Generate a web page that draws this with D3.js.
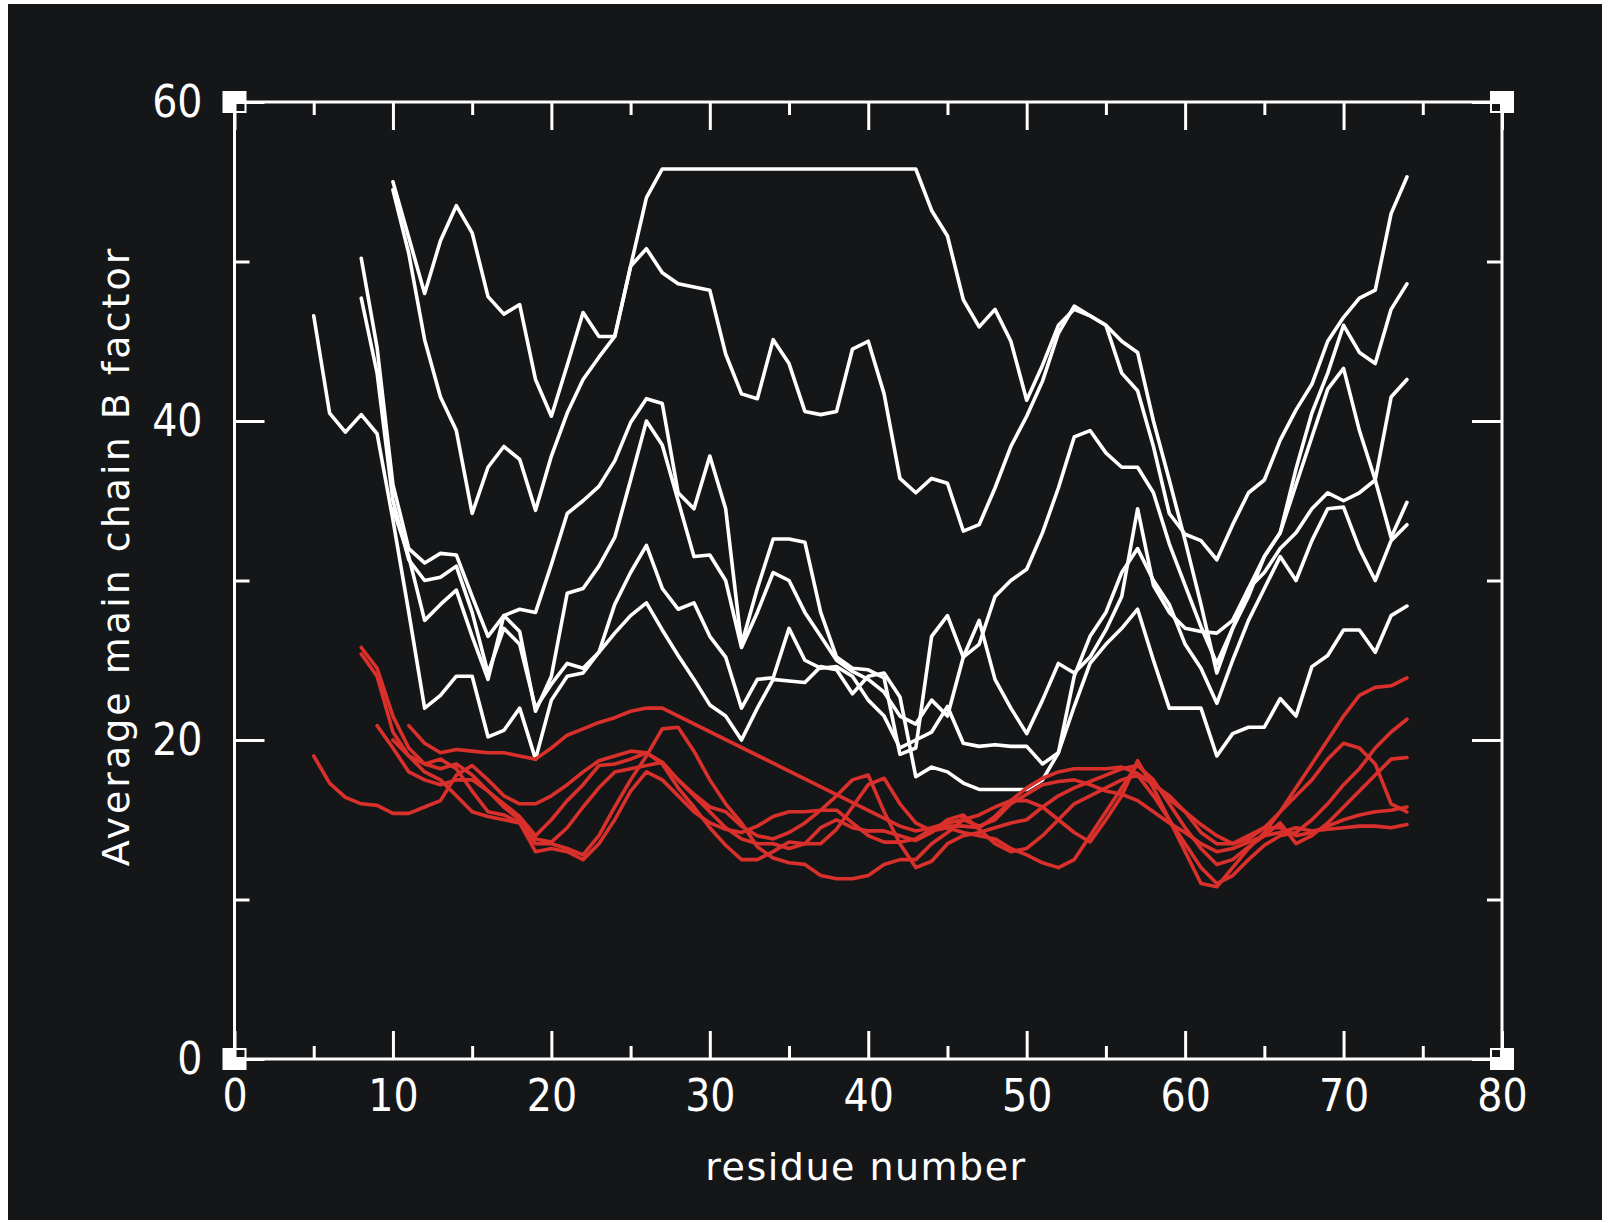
<!DOCTYPE html>
<html>
<head>
<meta charset="utf-8">
<style>
	body { margin: 0; background: #ffffff; }
	svg { display: block; }
	.tick text { font-family: "Liberation Sans Narrow", "DejaVu Sans Condensed", sans-serif; font-size: 44px; fill: #fff; }
	.title { font-family: "DejaVu Sans", sans-serif; font-size: 38px; fill: #fff; }
</style>
<script src="https://cdnjs.cloudflare.com/ajax/libs/d3/7.8.5/d3.min.js"></script>
</head>
<body>
<svg id="chart" width="1610" height="1223"></svg>
<script>
// axis ticks
let xMajor = [0, 10, 20, 30, 40, 50, 60, 70, 80];
let xMinor = [5, 15, 25, 35, 45, 55, 65, 75];
let yMajor = [0, 20, 40, 60];
let yMinor = [10, 30, 50];

// white curves: first residue, then one B value per residue (null = no residue)
let whiteStart = [5, 8, 8, 10, 10, 10];
let white1 = [46.6, 40.5, 39.3, 40.4, 39.2, 33.8, 28, 22, 22.8, 24,
	24, 20.2, 20.6, 22, 18.8, 22.5, 24, 24.2, 25.5, 26.7,
	27.8, 28.6, 26.9, 25.3, 23.8, 22.2, 21.5, 20, 22, 23.8,
	23.7, 23.6, 24.6, 24.4, 22.9, 24, 24.2, 22.7, 17.7, 18.3,
	18, 17.3, 16.9, 16.9, 16.9, 16.9, 17.5, 19.2, 22.1, 24.8,
	26, 27, 28.2, 25, 22, 22, 22, 19, 20.4, 20.8,
	20.8, 22.6, 21.5, 24.6, 25.3, 26.9, 26.9, 25.5, 27.8, 28.4];
let white2 = [50.2, 44.6, 36, 32, 31.1, 31.7, 31.6, 29, 26.5, 27.8,
	28.2, 28, 31, 34.2, 35, 35.9, 37.5, 39.9, 41.4, 41.1,
	35.5, 34.5, 37.8, 34.5, 26, 29.5, 32.6, 32.6, 32.4, 28,
	25.2, 24.5, 24.4, 23.9, 19.1, 19.5, 26.5, 27.8, 25.2, 26,
	29, 30, 30.7, 33, 35.8, 39, 39.4, 38, 37.1, 37.1,
	35.5, 32.3, 29.7, 27.1, 24.8, 27, 29.5, 31.5, 33, 36,
	39, 42, 43.3, 39.4, 36.3, 32.7, 34.9];
let white3 = [47.7, 43, 35, 31.3, 30, 30.2, 30.9, 28, 24.2, 27,
	26, 22, 23.5, 24.8, 24.5, 25.5, 28.5, 30.5, 32.2, 29.5,
	28.2, 28.6, 26.5, 25.2, 22, 23.8, 23.9, 27, 25, 24.5,
	24.6, 24, 22.5, 21.5, 19.5, 20, 20.5, 22.1, 19.8, 19.6,
	19.7, 19.6, 19.6, 18.5, 19.2, 24, 26.5, 28, 30.5, 32,
	30, 28.5, 26, 24.5, 22.3, 25, 27.5, 29.5, 31.5, 30,
	32.5, 34.5, 34.6, 32, 30, 32.5, 33.5];
let white4 = [34.5, 31.5, 27.5, 28.5, 29.4, 26.5, 23.8, 27.8, 26.8, 21.8,
	24, 29.2, 29.5, 30.9, 32.7, 36.3, 40, 38.5, 35, 31.5,
	31.6, 30, 25.8, 28, 30.5, 30, 28, 26.5, 25, 24.3,
	23.8, 23, 21.5, 21, 22.5, 21.5, 25.2, 27.5, 23.8, 22,
	20.4, 22.5, 24.8, 24.2, 25.2, 26.9, 29, 34.5, 29.7, 28,
	27, 26.8, 26.7, 27.5, 29.5, 30.5, 32, 33, 34.5, 35.5,
	35, 35.5, 36.3, 41.5, 42.6];
let white5 = [54.5, 50.5, 45.1, 41.5, 39.4, 34.2, 37.1, 38.4, 37.6, 34.4,
	37.8, 40.5, 42.6, 44, 45.3, 49.7, 50.8, 49.3, 48.6, 48.4,
	48.2, 44.2, 41.7, 41.4, 45.1, 43.6, 40.6, 40.4, 40.6, 44.5,
	45, 41.7, 36.4, 35.5, 36.4, 36.1, 33.1, 33.5, 35.8, 38.4,
	40.3, 42.5, 45.5, 47.2, 46.6, 46, 45, 44.3, 40, 36.3,
	32.5, 28.5, 24.2, 27, 29, 31.5, 33, 37, 40.5, 43,
	46, 44.3, 43.6, 47, 48.6];
let white6 = [55, 51.5, 48, 51.3, 53.5, 51.8, 47.8, 46.7, 47.3, 42.6,
	40.3, 43.5, 46.8, 45.3, 45.3, 49.7, 54, 55.8, null, null,
	null, null, null, null, null, null, null, null, null, null,
	null, null, null, 55.8, 53.2, 51.6, 47.6, 45.9, 47, 45,
	41.3, 43.5, 46, 47, 46.6, 46, 43, 41.9, 38.4, 34.2,
	32.9, 32.5, 31.3, 33.5, 35.5, 36.3, 38.8, 40.7, 42.3, 45,
	46.5, 47.7, 48.2, 53, 55.3];

// red curves
let redStart = [5, 8, 8, 9, 10, 11];
let red1 = [19, 17.3, 16.4, 16, 15.9, 15.4, 15.4, 15.8, 16.2, 17.8,
	18.4, 17.5, 16.5, 16, 16, 16.5, 17.2, 18, 18.7, 19,
	19.3, 19.2, 18.6, 17.5, 16.6, 15.8, 15.5, 14.6, 14, 13.8,
	14.2, 14.8, 15.6, 15.6, 14.8, 14, 13.6, 13.6, 13.8, 14.4,
	14.6, 14.6, 14.5, 15.2, 16.2, 17, 17.6, 18, 18.2, 18.2,
	18.2, 18.3, 17.9, 17.2, 16.5, 15.5, 14.2, 13.5, 13.5, 14,
	14.5, 14.5, 14, 14.2, 14.6, 15, 15.3, 15.5, 15.6, 15.8];
let red2 = [25.8, 24.5, 21.5, 19.5, 18.5, 18.2, 18.5, 17.8, 16.8, 16,
	15.2, 14, 15, 16.2, 17.2, 18.4, 18.5, 18.8, 19.2, 18.5,
	17, 15.8, 14.5, 13.4, 12.5, 12.5, 13, 13.6, 13.5, 13.5,
	14.4, 15.8, 17.2, 17.6, 16, 14.8, 14.3, 14.5, 14.2, 14,
	13.8, 13.2, 12.8, 12.3, 12, 12.5, 14, 15.5, 17, 18.5,
	17.3, 16.3, 15.5, 14.7, 14, 13.5, 13.8, 14.5, 15.5, 16.5,
	17.5, 18.8, 19.8, 19.5, 18.5, 16, 15.5];
let red3 = [25.4, 24, 20.5, 19, 18.5, 18.8, 18.2, 16.8, 15.5, 15.3,
	14.8, 13.5, 13.5, 13.2, 12.8, 14, 15.8, 17.5, 19, 20.7,
	20.8, 19.3, 17.5, 16, 14.8, 13.3, 12.6, 12.3, 12.2, 11.5,
	11.3, 11.3, 11.5, 12.2, 12.5, 12.5, 13.5, 14.2, 15, 15.3,
	15.8, 16.2, 16.2, 15.8, 15, 14.2, 13.6, 15, 16.5, 18.7,
	17, 15, 13, 11, 10.8, 12, 13.2, 14.2, 15.5, 17,
	18.5, 20, 21.5, 22.8, 23.3, 23.4, 23.9];
let red4 = [20.9, 19.5, 18, 17.5, 17.2, 17.5, 17.5, 16.8, 15.8, 15,
	13.8, 13.6, 14.5, 15.8, 17, 18, 18.2, 18.4, 18.6, 17.5,
	16.5, 15.5, 14.5, 13.8, 13.5, 13.5, 13.2, 13.5, 14.5, 15,
	14.5, 14.3, 14.3, 14, 13.7, 14.2, 15, 15.3, 14.4, 13.5,
	13, 13.2, 14, 15, 16, 16.5, 17, 17.5, 17.8, 16.5,
	15, 13.5, 12, 11, 11.5, 12.5, 13.4, 14, 14.2, 15,
	16, 17.2, 18.2, 19.5, 20.5, 21.3];
let red5 = [20, 19, 18, 17.5, 16.5, 15.5, 15.2, 15, 14.8, 13,
	13.2, 13, 12.5, 13.5, 15, 16.8, 18, 17.5, 16.5, 15.5,
	14.8, 14.4, 14.2, 14.6, 15.2, 15.5, 15.5, 15.6, 16.5, 17.5,
	17.8, 15.5, 13.5, 12, 12.4, 13.5, 14, 14.2, 14.5, 14.8,
	15, 15.8, 16.5, 17, 17.4, 17.8, 18.2, 18.4, 17.5, 16,
	14.5, 13.2, 12.2, 12.5, 13.3, 14, 14.8, 13.5, 14, 14.8,
	15.8, 16.8, 17.8, 18.8, 18.9];
let red6 = [20.9, 19.8, 19.2, 19.4, 19.3, 19.2, 19.2, 19, 18.8, 19.5,
	20.3, 20.7, 21.1, 21.4, 21.8, 22, 22, null, null, null,
	null, null, null, null, null, null, null, null, null, null,
	null, 14.6, 14.3, 14.5, 14.8, 15, 14.6, 15, 16, 16.6,
	17.2, 17.4, 17.5, 17.2, 16.8, 16.6, 16.2, 15.5, 14.8, 14.2,
	13.5, 13, 13.2, 13.6, 14, 14.2, 14.5, 14.3, 14.4, 14.5,
	14.6, 14.6, 14.5, 14.7];

let whiteSeries = [white1, white2, white3, white4, white5, white6];
let redSeries = [red1, red2, red3, red4, red5, red6];

let svg = d3.select('#chart');

let pLeft = 234.5, pRight = 1502, pTop = 102, pBottom = 1059;
let bg = '#151618';

let x = d3.scaleLinear().domain([0, 80]).range([pLeft, pRight]);
let y = d3.scaleLinear().domain([0, 60]).range([pBottom, pTop]);

function toPoints(start, vals) {
	return vals.map((v, i) => [start + i, v]).filter(d => d[1] !== null);
}

// dark backdrop
svg.append('rect')
	.attr('x', 8).attr('y', 4)
	.attr('width', 1594).attr('height', 1216)
	.attr('fill', bg);

let line = d3.line()
	.x(d => x(d[0]))
	.y(d => y(d[1]));

let plot = svg.append('g')
	.attr('fill', 'none')
	.attr('stroke-width', 3.6)
	.attr('stroke-linejoin', 'round')
	.attr('stroke-linecap', 'round');

plot.selectAll('.white')
	.data(whiteSeries.map((s, i) => toPoints(whiteStart[i], s)))
	.join('path')
	.attr('class', 'white')
	.attr('stroke', '#ffffff')
	.attr('d', line);

plot.selectAll('.red')
	.data(redSeries.map((s, i) => toPoints(redStart[i], s)))
	.join('path')
	.attr('class', 'red')
	.attr('stroke', '#d9302c')
	.attr('d', line);

// axes, ticks point inward on all four sides
function styleAxis(g) {
	g.select('.domain').remove();
	g.selectAll('.tick line').attr('stroke', '#fff').attr('stroke-width', 3);
}

svg.append('g').attr('transform', `translate(0,${pBottom})`)
	.call(d3.axisBottom(x).tickValues(xMajor).tickSize(-28).tickPadding(21).tickFormat(d3.format('d')))
	.call(styleAxis);
svg.append('g').attr('transform', `translate(0,${pBottom})`)
	.call(d3.axisBottom(x).tickValues(xMinor).tickSize(-13).tickFormat(''))
	.call(styleAxis);
svg.append('g').attr('transform', `translate(0,${pTop})`)
	.call(d3.axisTop(x).tickValues(xMajor).tickSize(-28).tickFormat(''))
	.call(styleAxis);
svg.append('g').attr('transform', `translate(0,${pTop})`)
	.call(d3.axisTop(x).tickValues(xMinor).tickSize(-13).tickFormat(''))
	.call(styleAxis);

svg.append('g').attr('transform', `translate(${pLeft},0)`)
	.call(d3.axisLeft(y).tickValues(yMajor).tickSize(-30).tickPadding(32).tickFormat(d3.format('d')))
	.call(styleAxis);
svg.append('g').attr('transform', `translate(${pLeft},0)`)
	.call(d3.axisLeft(y).tickValues(yMinor).tickSize(-15).tickFormat(''))
	.call(styleAxis);
svg.append('g').attr('transform', `translate(${pRight},0)`)
	.call(d3.axisRight(y).tickValues(yMajor).tickSize(-30).tickFormat(''))
	.call(styleAxis);
svg.append('g').attr('transform', `translate(${pRight},0)`)
	.call(d3.axisRight(y).tickValues(yMinor).tickSize(-15).tickFormat(''))
	.call(styleAxis);

// frame
svg.append('rect')
	.attr('x', pLeft).attr('y', pTop)
	.attr('width', pRight - pLeft).attr('height', pBottom - pTop)
	.attr('fill', 'none').attr('stroke', '#fff').attr('stroke-width', 3);

// corner blocks
let corners = [[pLeft, pTop, 1, 1], [pRight, pTop, -1, 1], [pLeft, pBottom, 1, -1], [pRight, pBottom, -1, -1]];
corners.forEach(c => {
	svg.append('rect')
		.attr('x', c[0] - 12).attr('y', c[1] - 11)
		.attr('width', 24).attr('height', 22)
		.attr('fill', '#fff');
	svg.append('rect')
		.attr('x', c[2] > 0 ? c[0] + 2 : c[0] - 10)
		.attr('y', c[3] > 0 ? c[1] + 2 : c[1] - 9)
		.attr('width', 8).attr('height', 7)
		.attr('fill', bg);
});

svg.append('text')
	.attr('class', 'title')
	.attr('x', 866).attr('y', 1180)
	.attr('text-anchor', 'middle')
	.attr('letter-spacing', 1.5)
	.text('residue number');

svg.append('text')
	.attr('class', 'title')
	.attr('transform', 'translate(129,556) rotate(-90)')
	.attr('text-anchor', 'middle')
	.attr('letter-spacing', 3)
	.text('Average main chain B factor');
</script>
</body>
</html>
